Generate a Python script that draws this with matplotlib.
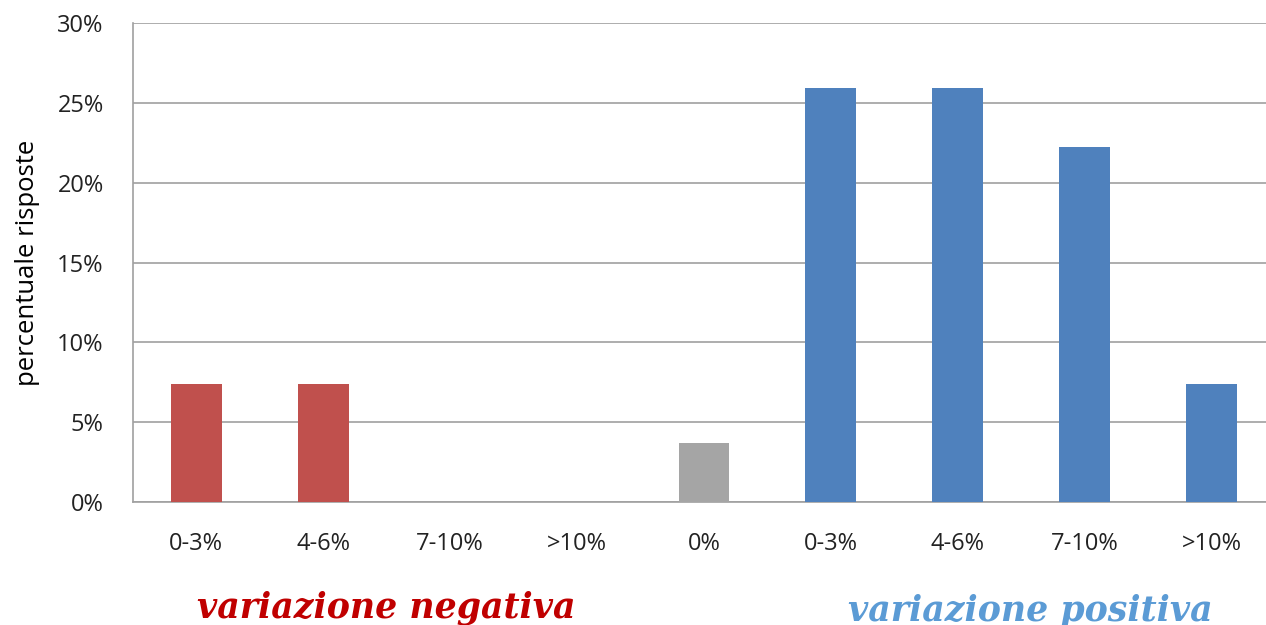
import matplotlib.pyplot as plt
from matplotlib.ticker import PercentFormatter

# Category labels and shares of answers (%)
categories = ['0-3%', '4-6%', '7-10%', '>10%', '0%', '0-3%', '4-6%', '7-10%', '>10%']
values = [7.41, 7.41, 0, 0, 3.70, 25.93, 25.93, 22.22, 7.41]
groups = ['neg', 'neg', 'neg', 'neg', 'zero', 'pos', 'pos', 'pos', 'pos']

group_colors = {'neg': '#C0504D', 'zero': '#A5A5A5', 'pos': '#4F81BD'}

plt.rcParams['font.family'] = ['Open Sans', 'DejaVu Sans']

fig = plt.figure(figsize=(12.66, 6.25), dpi=100)
ax = fig.add_axes([0.105, 0.197, 0.895, 0.766])

x = range(len(categories))
ax.bar(x, values, width=0.40, color=[group_colors[g] for g in groups], zorder=3)

# the original chart runs off the right edge of the image
ax.set_xlim(-0.5, 8.43)
ax.set_ylim(0, 30)
ax.set_yticks(range(0, 31, 5))
ax.yaxis.set_major_formatter(PercentFormatter(decimals=0))
ax.set_xticks(list(x))
ax.set_xticklabels(categories)
ax.tick_params(axis='both', length=0, labelsize=17, colors='#222222')
ax.tick_params(axis='x', pad=22)
ax.tick_params(axis='y', pad=21)
ax.grid(axis='y', color='#A0A0A0', linewidth=1.2, zorder=0)

for side in ['top', 'right']:
    ax.spines[side].set_visible(False)
for side in ['left', 'bottom']:
    ax.spines[side].set_color('#A0A0A0')
    ax.spines[side].set_linewidth(1.2)

ax.set_ylabel('percentuale risposte', fontsize=18.5)
ax.yaxis.set_label_coords(-0.082, 0.5)

fig.text(0.305, 0.0, 'variazione negativa', color='#C00000', fontsize=25,
         fontweight='bold', fontstyle='italic', family='DejaVu Serif', ha='center', va='bottom')
fig.text(0.814, -0.004, 'variazione positiva', color='#5B9BD5', fontsize=25,
         fontweight='bold', fontstyle='italic', family='DejaVu Serif', ha='center', va='bottom')

fig.savefig('out.png', dpi=100)
